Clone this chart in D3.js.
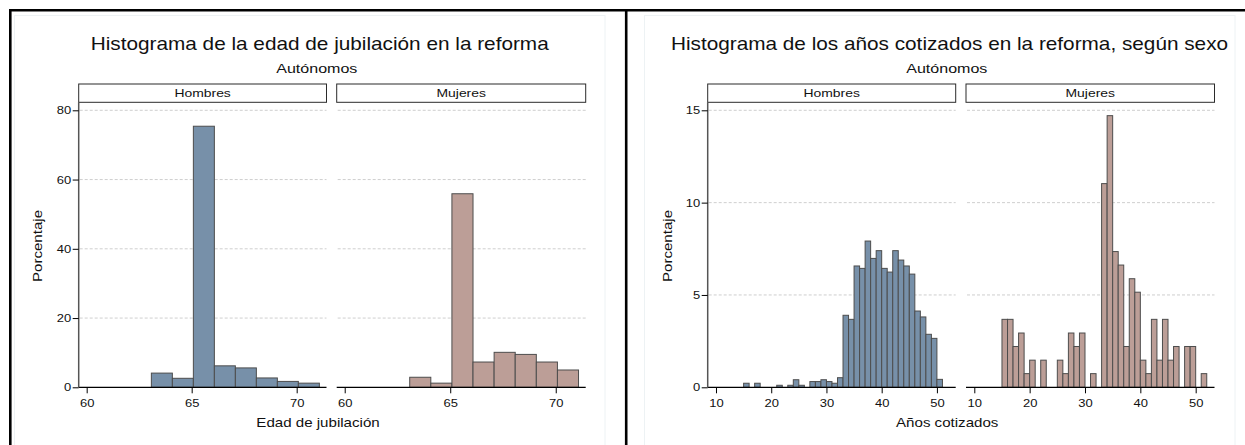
<!DOCTYPE html>
<html>
<head>
<meta charset="utf-8">
<script src="https://cdn.jsdelivr.net/npm/d3@7"></script>
<style>
  html, body { margin: 0; padding: 0; background: #fff; }
  svg { display: block; font-family: "Liberation Sans", Arial, sans-serif; }
</style>
</head>
<body>
<svg id="chart" width="1245" height="445"></svg>
<script>
// ---- Data -------------------------------------------------------------
const panelGroups = ["Hombres", "Mujeres"];

// Edad de jubilación: bins of one year starting at 63.08
const edadBinStart = 63.08;
const edadBinWidth = 1;
const edadHombres = [4.1, 2.6, 75.4, 6.2, 5.6, 2.7, 1.7, 1.2];
const edadMujeres = [2.9, 1.2, 55.9, 7.3, 10.1, 9.5, 7.3, 5.0];
const edadXTicks = [60, 65, 70];
const edadYTicks = [0, 20, 40, 60, 80];

// Años cotizados: one-year bins, lower edges 15 … 51
const anosBinStart = 15;
const anosBinWidth = 1;
const anosHombres = [0.22, 0, 0.22, 0, 0, 0, 0.11, 0, 0.11, 0.41, 0.11, 0, 0.31, 0.31,
  0.41, 0.31, 0.22, 0.52, 3.90, 3.68, 6.57, 6.44, 7.92, 6.98, 7.40, 6.44, 6.24, 7.40,
  6.89, 6.57, 6.13, 4.13, 3.81, 2.87, 2.65, 0.43, 0];
const anosMujeres = [3.68, 3.68, 2.21, 2.94, 0.74, 1.47, 0, 1.47, 0, 0, 1.47, 0.74, 2.94,
  2.21, 2.94, 0, 0.74, 0, 11.03, 14.71, 7.35, 6.62, 2.21, 5.88, 5.15, 1.47, 0.74, 3.68,
  1.47, 3.68, 1.47, 2.21, 0, 2.21, 2.21, 0, 0.74];
const anosXTicks = [10, 20, 30, 40, 50];
const anosYTicks = [0, 5, 10, 15];

// ---- Styles -----------------------------------------------------------
const colorHombres = "#7790a9";
const colorMujeres = "#bc9e97";
const barStroke = "#4d4d4d";
const gridColor = "#c9c9c9";
const WIDE = 1.18;   // horizontal widening applied to all lettering

const svg = d3.select("#chart");

// text helper: positioned label, widened along its reading direction
function label(parent, x, y, str, size, opts = {}) {
  const rot = opts.rotate ? ` rotate(${opts.rotate})` : "";
  return parent.append("text")
    .attr("transform", `translate(${x},${y})${rot} scale(${WIDE},1)`)
    .attr("text-anchor", opts.anchor || "middle")
    .attr("font-size", size).attr("fill", "#111").text(str);
}

// Outer frame lines and faint graph regions
svg.append("rect").attr("x", 14.5).attr("y", 15.5).attr("width", 590.5).attr("height", 440)
  .attr("fill", "none").attr("stroke", "#edf2f4").attr("stroke-width", 1);
svg.append("rect").attr("x", 644.5).attr("y", 15.5).attr("width", 590.5).attr("height", 440)
  .attr("fill", "none").attr("stroke", "#edf2f4").attr("stroke-width", 1);
svg.append("line").attr("x1", 9).attr("x2", 1245).attr("y1", 10.3).attr("y2", 10.3)
  .attr("stroke", "#000").attr("stroke-width", 2.6);
svg.append("line").attr("x1", 10.3).attr("x2", 10.3).attr("y1", 9).attr("y2", 445)
  .attr("stroke", "#000").attr("stroke-width", 2.6);
svg.append("line").attr("x1", 626.2).attr("x2", 626.2).attr("y1", 9).attr("y2", 445)
  .attr("stroke", "#000").attr("stroke-width", 2.6);

// ---- One figure: title, two facets with shared y axis -----------------
function drawFigure(cfg) {
  const g = svg.append("g");
  const y = d3.scaleLinear().domain(cfg.yDomain).range([cfg.y0, cfg.yTop]);

  label(g, cfg.titleX, 50, cfg.title, 17.6);
  label(g, cfg.subX, 72.7, "Autónomos", 13.6);

  cfg.facets.forEach((f, i) => {
    const x = d3.scaleLinear().domain(cfg.xDomain).range(f.range);
    const fg = g.append("g");

    // strip
    fg.append("rect").attr("x", f.range[0]).attr("y", 84)
      .attr("width", f.range[1] - f.range[0]).attr("height", 18.3)
      .attr("fill", "#fff").attr("stroke", "#2b2b2b").attr("stroke-width", 1);
    label(fg, (f.range[0] + f.range[1]) / 2, 96.8, panelGroups[i], 11.8);

    // grid
    fg.selectAll("line.grid").data(cfg.yTicks.filter(d => d > 0)).join("line")
      .attr("class", "grid")
      .attr("x1", f.range[0] + 1).attr("x2", f.range[1])
      .attr("y1", d => y(d)).attr("y2", d => y(d))
      .attr("stroke", gridColor).attr("stroke-width", 0.9)
      .attr("stroke-dasharray", "3,2");

    // bars
    const bins = f.values.map((v, k) => ({
      x0: cfg.binStart + k * cfg.binWidth,
      x1: cfg.binStart + (k + 1) * cfg.binWidth,
      v
    })).filter(b => b.v > 0);
    fg.selectAll("rect.bar").data(bins).join("rect")
      .attr("class", "bar")
      .attr("x", b => x(b.x0)).attr("width", b => x(b.x1) - x(b.x0))
      .attr("y", b => y(b.v)).attr("height", b => y(0) - y(b.v))
      .attr("fill", f.color).attr("stroke", barStroke).attr("stroke-width", 1);

    // x axis
    const xAxis = d3.axisBottom(x).tickValues(cfg.xTicks).tickSize(6).tickPadding(5.5)
      .tickFormat(d3.format("d"));
    const xg = fg.append("g").attr("transform", `translate(0,${cfg.y0})`).call(xAxis);
    xg.select(".domain").attr("d", `M${f.range[0]},0H${f.range[1]}`)
      .attr("stroke", "#000").attr("stroke-width", 1.3);
    xg.selectAll(".tick line").attr("stroke", "#000").attr("stroke-width", 1);
    xg.selectAll(".tick text").attr("font-size", 11).attr("fill", "#111")
      .attr("font-family", "Liberation Sans, Arial, sans-serif")
      .attr("transform", `scale(${WIDE},1)`);

    if (i === 0) {
      const yAxis = d3.axisLeft(y).tickValues(cfg.yTicks).tickSize(6).tickPadding(2)
        .tickFormat(d3.format("d"));
      const yg = fg.append("g").attr("transform", `translate(${f.range[0]},0)`).call(yAxis);
      yg.select(".domain").attr("d", `M0,${cfg.y0}V102.3`)
        .attr("stroke", "#555").attr("stroke-width", 1.5);
      yg.selectAll(".tick line").attr("stroke", "#000").attr("stroke-width", 1);
      yg.selectAll(".tick text").attr("font-size", 11).attr("fill", "#111")
        .attr("font-family", "Liberation Sans, Arial, sans-serif")
        .attr("x", -7.5 / WIDE)
        .attr("transform", `scale(${WIDE},1)`);

      label(g, cfg.yTitleX, 246, "Porcentaje", 12.8, { rotate: -90 });
    }
  });

  label(g, cfg.xTitleX, 427.3, cfg.xTitle, 12.8);
}

drawFigure({
  title: "Histograma de la edad de jubilación en la reforma",
  titleX: 319.7, subX: 316.8,
  xTitle: "Edad de jubilación", xTitleX: 318,
  yTitleX: 42.3,
  yDomain: [0, 80], y0: 387.3, yTop: 110.3,
  xDomain: [59.62, 71.42],
  xTicks: edadXTicks, yTicks: edadYTicks,
  binStart: edadBinStart, binWidth: edadBinWidth,
  facets: [
    { range: [78.7, 326.5], values: edadHombres, color: colorHombres },
    { range: [336.7, 585.7], values: edadMujeres, color: colorMujeres }
  ]
});

drawFigure({
  title: "Histograma de los años cotizados en la reforma, según sexo",
  titleX: 949.5, subX: 946.8,
  xTitle: "Años cotizados", xTitleX: 947.2,
  yTitleX: 672.3,
  yDomain: [0, 15], y0: 387.3, yTop: 110.3,
  xDomain: [8.5, 53.4],
  xTicks: anosXTicks, yTicks: anosYTicks,
  binStart: anosBinStart, binWidth: anosBinWidth,
  facets: [
    { range: [707.7, 955.7], values: anosHombres, color: colorHombres },
    { range: [966, 1214.5], values: anosMujeres, color: colorMujeres }
  ]
});
</script>
</body>
</html>
